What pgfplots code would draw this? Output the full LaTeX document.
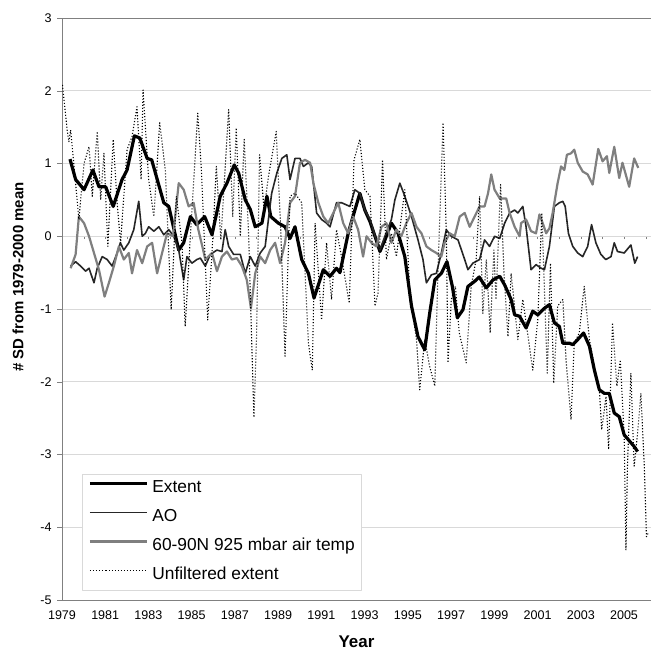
\documentclass[border=0pt]{standalone}
\usepackage{fontspec}
\setmainfont{Liberation Sans}
\usepackage{pgfplots}
\pgfplotsset{compat=1.18}
\definecolor{gridgray}{HTML}{D9D9D9}
\definecolor{axisgray}{HTML}{808080}
\definecolor{tempgray}{HTML}{7F7F7F}
\definecolor{aodark}{HTML}{262626}

\begin{document}
\begin{tikzpicture}
\useasboundingbox (0,0) rectangle (652bp,655bp);
% y = 0 crossing ticks (Excel style)
\begin{axis}[
  at={(62bp,55bp)}, anchor=south west,
  width=589bp, height=582bp, scale only axis,
  xmin=1979, xmax=2006.25, ymin=-5, ymax=3,
  axis x line=middle, axis y line=none,
  x axis line style={draw=none,-},
  xtick={1979,1980,...,2006}, xticklabels={},
  xtick align=outside, major tick length=3bp,
  xtick style={axisgray},
  ]
\addplot[draw=none] coordinates {(1979,0)};
\end{axis}
\begin{axis}[
  at={(62bp,55bp)}, anchor=south west,
  width=589bp, height=582bp, scale only axis,
  xmin=1979, xmax=2006.25, ymin=-5, ymax=3,
  axis lines=left, axis line style={-, draw=axisgray},
  xtick={1979,1981,...,2005}, xtick style={draw=none},
  ytick={-5,-4,...,3}, ytick align=outside, major tick length=5bp,
  ytick style={axisgray},
  extra y ticks={3}, extra y tick labels={},
  extra y tick style={grid style={axisgray}},
  ymajorgrids, grid style={gridgray, line width=0.8bp},
  /pgf/number format/assume math mode=true,
  /pgf/number format/set thousands separator={},
  ticklabel style={font=\fontsize{12.6}{15}\selectfont},
  xticklabel style={yshift=-5bp},
  yticklabel style={xshift=-2bp},
  xlabel={Year},
  xlabel style={font=\bfseries\fontsize{17}{20}\selectfont, at={(axis description cs:0.5,-0.072)}, anchor=center},
  ylabel={\# SD from 1979-2000 mean},
  ylabel style={font=\bfseries\fontsize{15}{18}\selectfont, at={(axis description cs:-0.0747,0.555)}, anchor=center},
  legend cell align=left,
  legend image code/.code={\path (-16bp,5bp) -- (0bp,5bp); \draw[#1] (0bp,5bp) -- (41bp,5bp);},
  legend style={at={(0.034,0.017)}, anchor=south west, draw=gridgray, fill=white,
    font=\fontsize{17.4}{20}\selectfont, inner xsep=6bp, inner ysep=6bp,
    row sep=12bp, column sep=4bp,
    nodes={inner sep=0pt, text height=13bp, text depth=4bp}},
  line join=round,
  ]
% Extent (smoothed)
\addplot[black, line width=3.2bp] coordinates {
(1979.37,1.06) (1979.63,0.78) (1980.02,0.64) (1980.43,0.91) (1980.71,0.68)
(1981.02,0.68) (1981.37,0.41) (1981.78,0.78) (1982.01,0.91) (1982.35,1.38)
(1982.60,1.35) (1982.94,1.07) (1983.15,1.05) (1983.71,0.46) (1983.94,0.41)
(1984.40,-0.19) (1984.63,-0.09) (1984.94,0.27) (1985.23,0.16) (1985.60,0.27)
(1985.94,0.02) (1986.32,0.55) (1986.63,0.73) (1986.97,0.98) (1987.17,0.87)
(1987.48,0.50) (1987.71,0.37) (1987.94,0.13) (1988.25,0.18) (1988.48,0.55)
(1988.66,0.27) (1989.01,0.18) (1989.32,0.13) (1989.55,-0.03) (1989.78,0.13)
(1990.09,-0.32) (1990.40,-0.51) (1990.66,-0.85) (1991.09,-0.46) (1991.40,-0.55)
(1991.70,-0.44) (1991.86,-0.50) (1992.24,0.04) (1992.55,0.36) (1992.78,0.59)
(1993.01,0.36) (1993.25,0.20) (1993.48,0.00) (1993.71,-0.21) (1993.94,-0.05)
(1994.24,0.18) (1994.55,0.04) (1994.86,-0.28) (1995.17,-0.96) (1995.47,-1.38)
(1995.78,-1.56) (1996.01,-1.06) (1996.25,-0.60) (1996.55,-0.51) (1996.81,-0.35)
(1997.06,-0.69) (1997.29,-1.12) (1997.55,-1.01) (1997.78,-0.69) (1998.09,-0.62)
(1998.30,-0.56) (1998.63,-0.71) (1998.94,-0.60) (1999.25,-0.55) (1999.48,-0.67)
(1999.78,-0.87) (1999.94,-1.08) (2000.17,-1.10) (2000.47,-1.26) (2000.78,-1.03)
(2001.01,-1.08) (2001.32,-0.99) (2001.55,-0.94) (2001.78,-1.19) (2002.01,-1.24)
(2002.17,-1.47) (2002.47,-1.47) (2002.63,-1.49) (2002.86,-1.42) (2003.13,-1.33)
(2003.40,-1.51) (2003.63,-1.84) (2003.86,-2.11) (2004.09,-2.16) (2004.32,-2.16)
(2004.55,-2.43) (2004.78,-2.48) (2005.01,-2.73) (2005.27,-2.82) (2005.47,-2.89)
(2005.63,-2.96)
};
\addlegendentry{Extent}
% AO
\addplot[aodark, line width=1.6bp] coordinates {
(1979.40,-0.41) (1979.63,-0.35) (1979.86,-0.41) (1980.09,-0.48) (1980.25,-0.44)
(1980.48,-0.64) (1980.63,-0.44) (1980.86,-0.28) (1981.09,-0.32) (1981.32,-0.41)
(1981.55,-0.23) (1981.70,-0.09) (1981.86,-0.19) (1982.09,-0.09) (1982.32,0.09)
(1982.55,0.48) (1982.71,0.00) (1982.86,0.04) (1983.01,0.13) (1983.25,0.07)
(1983.48,0.13) (1983.71,0.02) (1983.94,0.09) (1984.17,0.00) (1984.40,-0.19)
(1984.63,-0.60) (1984.78,-0.28) (1985.01,-0.37) (1985.24,-0.32) (1985.40,-0.30)
(1985.63,-0.41) (1985.86,-0.25) (1986.17,-0.19) (1986.40,-0.21) (1986.55,0.09)
(1986.71,-0.14) (1986.94,-0.25) (1987.25,-0.25) (1987.48,-0.51) (1987.71,-0.28)
(1987.94,-0.41) (1988.17,-0.23) (1988.40,-0.14) (1988.55,0.23) (1988.70,0.59)
(1988.94,0.87) (1989.17,1.07) (1989.40,1.12) (1989.55,0.78) (1989.78,1.07)
(1990.01,1.07) (1990.17,0.96) (1990.40,1.01) (1990.55,0.96) (1990.78,0.32)
(1991.01,0.23) (1991.24,0.18) (1991.40,0.13) (1991.70,0.46) (1991.94,0.46)
(1992.32,0.41) (1992.55,0.64) (1992.78,0.59) (1993.01,0.36) (1993.25,0.23)
(1993.48,0.00) (1993.71,-0.19) (1993.94,0.00) (1994.24,0.23) (1994.40,0.50)
(1994.63,0.73) (1994.86,0.55) (1995.17,0.27) (1995.47,-0.05) (1995.70,-0.32)
(1995.86,-0.64) (1996.09,-0.53) (1996.32,-0.51) (1996.55,-0.23) (1996.78,0.09)
(1997.01,0.00) (1997.32,-0.05) (1997.63,-0.32) (1997.78,-0.46) (1998.01,-0.37)
(1998.32,-0.32) (1998.55,-0.05) (1998.78,-0.14) (1999.01,0.00) (1999.25,-0.03)
(1999.48,0.18) (1999.71,0.32) (1999.94,0.36) (2000.09,0.32) (2000.32,0.41)
(2000.47,0.13) (2000.70,-0.46) (2000.93,-0.39) (2001.17,-0.44) (2001.32,-0.46)
(2001.55,-0.14) (2001.78,0.41) (2002.01,0.46) (2002.17,0.48) (2002.28,0.41)
(2002.43,0.04) (2002.63,-0.14) (2002.86,-0.23) (2003.09,-0.28) (2003.32,-0.14)
(2003.50,0.16) (2003.70,-0.09) (2003.93,-0.25) (2004.16,-0.32) (2004.40,-0.28)
(2004.55,-0.09) (2004.70,-0.21) (2005.01,-0.23) (2005.32,-0.12) (2005.50,-0.37)
(2005.63,-0.28)
};
\addlegendentry{AO}
% 60-90N 925 mbar air temperature
\addplot[tempgray, line width=2.2bp] coordinates {
(1979.40,-0.44) (1979.63,-0.25) (1979.78,0.27) (1980.02,0.18) (1980.25,0.00)
(1980.48,-0.23) (1980.71,-0.46) (1980.97,-0.83) (1981.17,-0.64) (1981.40,-0.41)
(1981.63,-0.14) (1981.86,-0.32) (1982.09,-0.23) (1982.24,-0.51) (1982.47,-0.19)
(1982.71,-0.37) (1982.94,-0.14) (1983.17,-0.09) (1983.40,-0.51) (1983.63,-0.23)
(1983.86,0.04) (1984.14,0.00) (1984.40,0.73) (1984.63,0.64) (1984.86,0.41)
(1985.09,0.46) (1985.30,0.10) (1985.50,-0.15) (1985.63,-0.32) (1985.94,-0.23)
(1986.17,-0.48) (1986.40,-0.28) (1986.63,-0.21) (1986.86,-0.32) (1987.09,-0.30)
(1987.32,-0.41) (1987.55,-0.60) (1987.74,-0.99) (1987.94,-0.51) (1988.17,-0.28)
(1988.40,-0.37) (1988.63,-0.19) (1988.86,-0.09) (1989.09,-0.37) (1989.32,-0.09)
(1989.55,0.46) (1989.78,0.55) (1990.01,1.01) (1990.24,1.05) (1990.48,1.01)
(1990.63,0.73) (1990.86,0.46) (1991.09,0.27) (1991.32,0.18) (1991.55,0.32)
(1991.78,0.46) (1992.01,0.18) (1992.24,0.04) (1992.47,0.27) (1992.70,0.09)
(1992.93,-0.28) (1993.09,0.00) (1993.32,-0.09) (1993.55,-0.14) (1993.78,0.13)
(1994.01,0.18) (1994.24,-0.09) (1994.47,0.09) (1994.70,0.00) (1994.93,0.18)
(1995.17,0.32) (1995.40,0.13) (1995.63,0.04) (1995.86,-0.14) (1996.09,-0.19)
(1996.32,-0.23) (1996.55,-0.28) (1996.70,-0.09) (1996.94,0.04) (1997.17,0.00)
(1997.40,0.27) (1997.63,0.32) (1997.86,0.13) (1998.09,0.27) (1998.32,0.41)
(1998.55,0.41) (1998.71,0.59) (1998.86,0.85) (1999.01,0.64) (1999.25,0.52)
(1999.55,0.52) (1999.71,0.32) (1999.94,0.13) (2000.17,0.00) (2000.24,0.18)
(2000.47,0.23) (2000.70,0.07) (2000.93,0.04) (2001.09,0.30) (2001.24,0.18)
(2001.40,0.04) (2001.55,0.11) (2001.70,0.32) (2001.93,0.73) (2002.09,0.96)
(2002.24,0.91) (2002.36,1.12) (2002.55,1.14) (2002.70,1.19) (2002.86,1.01)
(2003.09,0.89) (2003.32,0.85) (2003.55,0.71) (2003.81,1.20) (2004.01,1.03)
(2004.21,1.10) (2004.32,0.87) (2004.55,1.23) (2004.78,0.80) (2004.93,1.01)
(2005.24,0.68) (2005.47,1.07) (2005.66,0.94)
};
\addlegendentry{60-90N 925 mbar air temp}
% Unfiltered extent
\addplot[black, line width=1.1bp, dash pattern=on 1.1bp off 1.9bp] coordinates {
(1979.02,2.08) (1979.24,1.46) (1979.32,1.30) (1979.40,1.46) (1979.63,0.73)
(1979.78,0.23) (1980.02,1.00) (1980.25,1.23) (1980.40,0.55) (1980.63,1.44)
(1980.79,0.50) (1980.94,1.14) (1981.12,-0.14) (1981.37,1.33) (1981.55,0.46)
(1981.71,-0.09) (1982.01,1.19) (1982.24,1.37) (1982.47,1.78) (1982.66,0.78)
(1982.75,2.01) (1983.01,0.78) (1983.25,0.27) (1983.52,1.56) (1983.78,0.91)
(1984.05,-1.01) (1984.29,0.55) (1984.55,-0.09) (1984.70,-1.24) (1984.94,0.00)
(1985.28,1.69) (1985.45,0.91) (1985.74,-1.15) (1985.94,-0.23) (1986.14,0.96)
(1986.35,-0.05) (1986.71,1.74) (1986.90,0.27) (1987.06,1.49) (1987.25,0.00)
(1987.43,1.33) (1987.63,0.04) (1987.88,-2.49) (1988.00,-1.38) (1988.14,1.12)
(1988.35,0.36) (1988.55,0.82) (1988.91,1.44) (1989.12,0.09) (1989.32,-1.65)
(1989.55,0.55) (1989.78,0.59) (1990.09,0.46) (1990.40,-1.47) (1990.58,-1.84)
(1990.71,0.18) (1991.01,-1.15) (1991.24,-0.09) (1991.47,-0.87) (1991.70,0.09)
(1991.90,-0.23) (1992.29,-0.92) (1992.51,1.05) (1992.78,1.33) (1993.01,0.64)
(1993.25,0.55) (1993.48,-0.96) (1993.62,-0.78) (1993.83,1.05) (1994.01,-0.32)
(1994.24,0.04) (1994.47,-0.28) (1994.86,0.64) (1995.09,-0.78) (1995.40,-1.42)
(1995.55,-2.11) (1995.78,-1.42) (1996.01,-1.79) (1996.25,-2.06) (1996.40,-0.41)
(1996.63,1.56) (1996.78,0.04) (1996.86,-1.74) (1997.01,-0.87) (1997.20,-0.69)
(1997.38,-1.33) (1997.70,-1.74) (1997.93,-0.69) (1998.16,-0.32) (1998.32,0.55)
(1998.47,-1.06) (1998.63,-0.32) (1998.81,-1.33) (1998.98,-0.19) (1999.08,-0.87)
(1999.29,0.71) (1999.45,-0.51) (1999.63,-1.38) (1999.78,-0.51) (2000.09,-1.42)
(2000.32,-0.87) (2000.52,-1.29) (2000.78,-1.84) (2001.01,-1.15) (2001.20,0.32)
(2001.45,-1.88) (2001.60,-0.37) (2001.75,-2.02) (2001.93,-0.96) (2002.17,-0.87)
(2002.32,-1.70) (2002.55,-2.52) (2002.70,-1.47) (2002.93,-1.33) (2003.16,-0.69)
(2003.40,-1.42) (2003.63,-1.79) (2003.86,-2.11) (2003.97,-2.66) (2004.17,-2.20)
(2004.29,-2.93) (2004.47,-1.19) (2004.67,-2.06) (2004.83,-1.70) (2005.01,-2.75)
(2005.09,-4.31) (2005.16,-3.16) (2005.32,-1.88) (2005.47,-3.16) (2005.63,-2.71)
(2005.78,-2.16) (2005.94,-3.16) (2006.04,-4.13) (2006.12,-4.08)
};
\addlegendentry{Unfiltered extent}
\end{axis}
\end{tikzpicture}
\end{document}
